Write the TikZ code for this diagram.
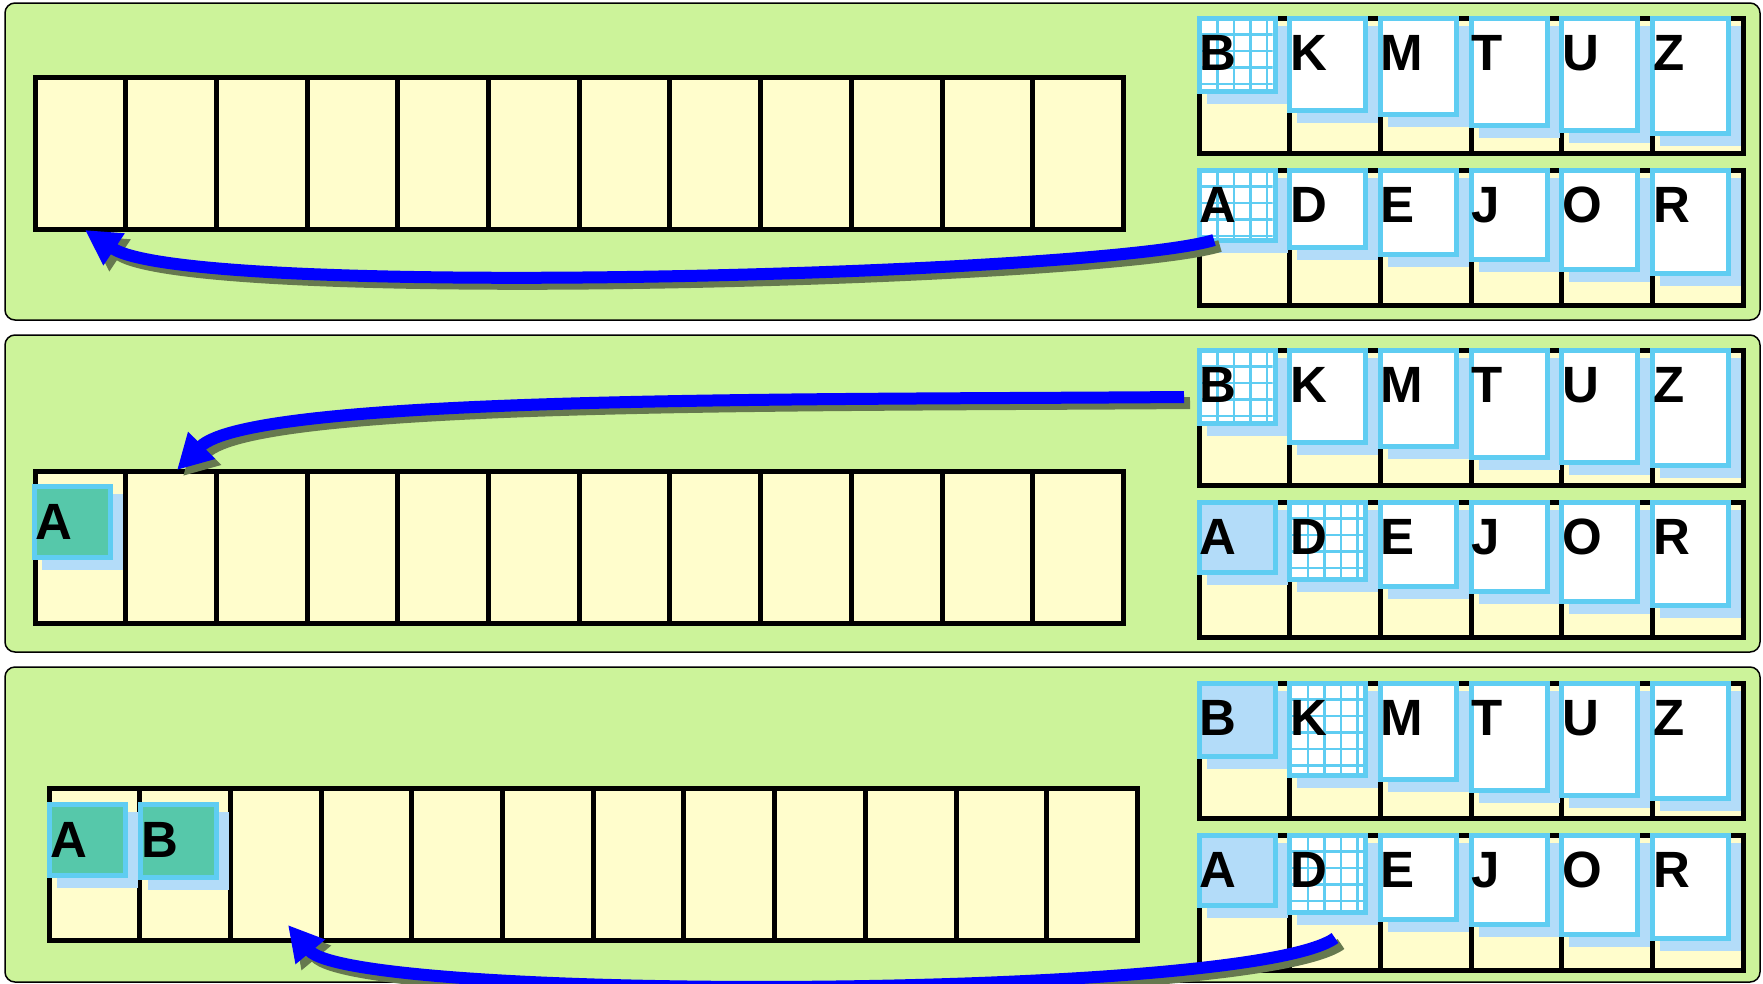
\documentclass[tikz,border=0pt]{standalone}
\usepackage{fontspec}
\setmainfont{Liberation Sans}
\usetikzlibrary{arrows.meta}
\definecolor{panelgreen}{RGB}{204,243,154}
\definecolor{cellyellow}{RGB}{255,253,204}
\definecolor{skyb}{RGB}{95,205,242}
\definecolor{shadowb}{RGB}{179,220,249}
\definecolor{tealc}{RGB}{86,200,170}
\definecolor{arrowsh}{RGB}{102,121,79}
\tikzset{
 panel/.style={draw=black, line width=1.5pt, fill=panelgreen, rounded corners=10pt},
 bigcell/.style={draw=black, line width=5pt, fill=cellyellow, minimum width=90.7pt, minimum height=152pt, inner sep=0pt, outer sep=0pt, anchor=north west},
 smallcell/.style={bigcell, minimum height=135pt},
 cardnode/.style={draw=skyb, line width=5pt, minimum width=76pt, inner sep=0pt, outer sep=0pt, anchor=north west},
 letter/.style={inner sep=0pt, outer sep=0pt, anchor=base west, font=\fontsize{51pt}{51pt}\selectfont\bfseries},
 gridline/.style={draw=skyb, line width=2.5pt},
 blueline/.style={draw=blue, line width=12pt, -{Triangle[length=35pt,width=36pt]}},
 shadowline/.style={draw=arrowsh, line width=12pt, -{Triangle[length=35pt,width=36pt]}},
}
\newcommand\mycard[5]{%
  \fill[shadowb] ({#2+10},{#3+10}) rectangle ({#2+91},{#3+#4+10});
  \node[cardnode, fill=#5, minimum height={#4-5}] (#1) at ({#2+2.5},{#3+2.5}) {};}
\newcommand\mygrid[3]{%
  \begin{scope}
  \clip ({#1+5},{#2+5}) rectangle ({#1+76},{#2+#3-5});
  \foreach \gx in {21,37.5,54,70.5} \draw[gridline] ({#1+\gx},{#2}) -- ({#1+\gx},{#2+#3});
  \foreach \gy in {19,35.5,52,68.5,85,101.5} \draw[gridline] ({#1},{#2+\gy}) -- ({#1+81},{#2+\gy});
  \end{scope}}
\newcommand\myletter[4]{\node[letter] (#1) at ({#2+3},{#3+55}) {#4};}
\newcommand\smallrow[3]{%
  \foreach \i in {1,...,6} \node[smallcell] (#1c\i) at ({1199+(\i-1)*90.7},#2) {};
  \foreach \L/\H/\F/\G [count=\i] in {#3} {
    \pgfmathsetmacro\cx{1199+(\i-1)*90.7-2.5}
    \pgfmathsetmacro\cy{#2-2.5}
    \mycard{#1\L}{\cx}{\cy}{\H}{\F}
    \ifnum\G=1 \mygrid{\cx}{\cy}{\H}\fi
    \myletter{#1\L t}{\cx}{\cy}{\L}
  }}
\begin{document}
\begin{tikzpicture}[x=1pt,y=-1pt]
\clip (0,0) rectangle (1763,983);
% panels
\draw[panel] (5,3) rectangle (1760,320);
\draw[panel] (5,335) rectangle (1760,652);
\draw[panel] (5,667) rectangle (1760,982);
% big arrays
\foreach \i in {1,...,12} \node[bigcell] (p1c\i) at ({35+(\i-1)*90.7},77) {};
\foreach \i in {1,...,12} \node[bigcell] (p2c\i) at ({35+(\i-1)*90.7},471) {};
\foreach \i in {1,...,12} \node[bigcell] (p3c\i) at ({49+(\i-1)*90.7},788) {};
% small arrays with cards
\smallrow{p1t}{18}{B/78/white/1, K/97/white/0, M/101/white/0, T/112/white/0, U/117/white/0, Z/120/white/0}
\smallrow{p1b}{170}{A/75/white/1, D/82/white/0, E/89/white/0, J/94/white/0, O/104/white/0, R/108/white/0}
\smallrow{p2t}{350}{B/78/white/1, K/97/white/0, M/101/white/0, T/112/white/0, U/117/white/0, Z/120/white/0}
\smallrow{p2b}{502}{A/75/shadowb/0, D/82/white/1, E/89/white/0, J/94/white/0, O/104/white/0, R/108/white/0}
\smallrow{p3t}{683}{B/78/shadowb/0, K/97/white/1, M/101/white/0, T/112/white/0, U/117/white/0, Z/120/white/0}
\smallrow{p3b}{835}{A/75/shadowb/0, D/82/white/1, E/89/white/0, J/94/white/0, O/104/white/0, R/108/white/0}
% cards placed in big arrays
\mycard{p2A}{32}{484}{76}{tealc}\myletter{p2At}{32}{484}{A}
\mycard{p3A}{47}{802}{76}{tealc}\myletter{p3At}{47}{802}{A}
\mycard{p3B}{138}{802}{78}{tealc}\myletter{p3Bt}{138}{802}{B}
% arrow end points
\coordinate (a1s) at (1214,240); \coordinate (a1t) at (85,230);
\coordinate (a2s) at (1184,397); \coordinate (a2t) at (177,470);
\coordinate (a3s) at (1335,938); \coordinate (a3t) at (288,925);
\begin{scope}[transform canvas={xshift=6pt,yshift=-6pt}]
\draw[shadowline] (a1s) .. controls (1100,275) and (190,300) .. (a1t);
\draw[shadowline] (a2s) .. controls (800,400) and (252,395) .. (a2t);
\draw[shadowline] (a3s) .. controls (1250,1000) and (352,1002) .. (a3t);
\end{scope}
\draw[blueline] (a1s) .. controls (1100,275) and (190,300) .. (a1t);
\draw[blueline] (a2s) .. controls (800,400) and (252,395) .. (a2t);
\draw[blueline] (a3s) .. controls (1250,1000) and (352,1002) .. (a3t);
\end{tikzpicture}
\end{document}
